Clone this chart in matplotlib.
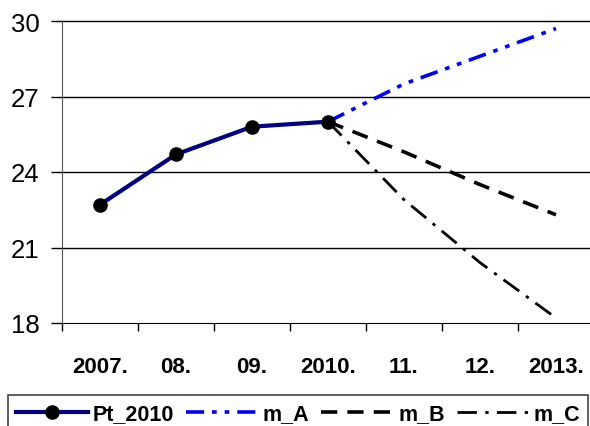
import numpy as np
import matplotlib.pyplot as plt
from matplotlib.lines import Line2D
from matplotlib.patches import Rectangle

plt.rcParams['font.family'] = ['Liberation Sans', 'DejaVu Sans']

years = ['2007.', '08.', '09.', '2010.', '11.', '12.', '2013.']
pt_2010 = [22.7, 24.7, 25.8, 26.0]
m_a = [26.0, 27.5, 28.6, 29.7]
m_b = [26.0, 24.8, 23.5, 22.3]
m_c = [26.0, 22.9, 20.4, 18.2]

x_hist = np.arange(len(pt_2010))
x_proj = np.arange(len(pt_2010) - 1, len(years))

dash_a = (5, 2.2, 1.3, 2.2, 1.3, 2.2)
dash_b = (4.5, 2.8)
dash_c = (7, 3, 1.2, 3)

fig = plt.figure(figsize=(5.9, 4.27), dpi=100)
ax = fig.add_axes([62 / 590, 1 - 324 / 427, 532 / 590, 302 / 427])

# horizontal grid
for v in [21, 24, 27, 30]:
    ax.axhline(v, color='black', lw=1.0, zorder=1, clip_on=False)

ax.plot(x_proj, m_a, color='#0000FF', lw=2.6, dashes=dash_a, zorder=3)
ax.plot(x_proj, m_b, color='black', lw=2.6, dashes=dash_b, zorder=3)
ax.plot(x_proj, m_c, color='black', lw=2.0, dashes=dash_c, zorder=3)
ax.plot(x_hist, pt_2010, color='#000080', lw=3, marker='o', ms=9.5,
        mfc='black', mec='black', zorder=4)

ax.set_xlim(-0.5, len(years) - 0.5)
ax.set_ylim(18, 30)
ax.set_yticks([18, 21, 24, 27, 30])
ax.tick_params(axis='y', labelsize=18.5, length=8, width=1, pad=8)

# labels centered on categories, tick marks between them
ax.set_xticks(np.arange(-0.5, len(years) - 0.5, 1.0))
ax.set_xticklabels([])
ax.set_xticks(np.arange(len(years)), minor=True)
ax.set_xticklabels(years, minor=True, fontsize=16, fontweight='bold')
ax.tick_params(axis='x', which='major', direction='out', length=6, width=1)
ax.tick_params(axis='x', which='minor', length=0, pad=24)

for s in ['top', 'right']:
    ax.spines[s].set_visible(False)
ax.spines['left'].set_color('#555555')
ax.spines['bottom'].set_color('black')

# legend box runs past the bottom edge of the figure
fig.patches.append(Rectangle((8 / 590, -0.05), 580 / 590, 0.05 + 1 - 396 / 427,
                             transform=fig.transFigure, fill=False,
                             edgecolor='#444444', lw=1.2))

handles = [
    Line2D([], [], color='#000080', lw=3, marker='o', ms=9.5, mfc='black', mec='black'),
    Line2D([], [], color='#0000FF', lw=2.6, dashes=dash_a),
    Line2D([], [], color='black', lw=2.6, dashes=dash_b),
    Line2D([], [], color='black', lw=2.0, dashes=dash_c),
]
fig.legend(handles, ['Pt_2010', 'm_A', 'm_B', 'm_C'], ncol=4,
           loc='center left', bbox_to_anchor=(16 / 590, 1 - 415 / 427),
           frameon=False, prop={'weight': 'bold', 'size': 15.5},
           handlelength=3.35, handletextpad=0.22, columnspacing=0.55,
           borderaxespad=0, borderpad=0)

fig.savefig('out.png', dpi=100)
